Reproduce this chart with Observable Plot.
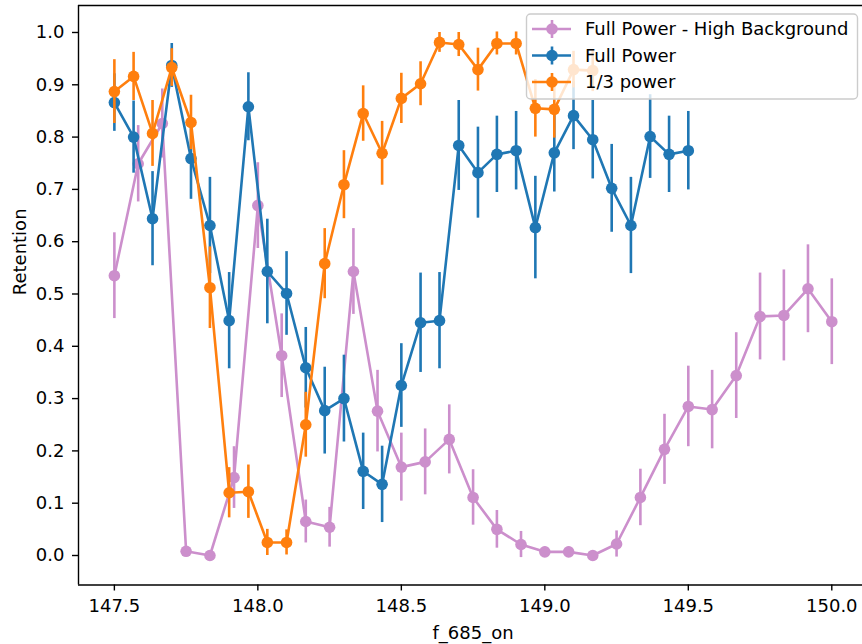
<!DOCTYPE html>
<html><head><meta charset="utf-8">
<script src="https://cdn.jsdelivr.net/npm/d3@7"></script>
<script src="https://cdn.jsdelivr.net/npm/@observablehq/plot@0.6"></script>
<style>body{margin:0;background:#fff;}</style>
</head><body><div id="chart"></div>
<script>
// Frequencies (f_685_on)
const xPink = [147.5, 147.583, 147.667, 147.75, 147.833, 147.917, 148.0, 148.083, 148.167, 148.25, 148.333, 148.417, 148.5, 148.583, 148.667, 148.75, 148.833, 148.917, 149.0, 149.083, 149.167, 149.25, 149.333, 149.417, 149.5, 149.583, 149.667, 149.75, 149.833, 149.917, 150.0];
const yPink = [0.535, 0.749, 0.826, 0.008, 0.0, 0.149, 0.669, 0.382, 0.065, 0.054, 0.543, 0.276, 0.169, 0.179, 0.222, 0.111, 0.050, 0.021, 0.007, 0.007, 0.0, 0.022, 0.111, 0.203, 0.285, 0.279, 0.344, 0.457, 0.459, 0.510, 0.447];
const ePink = [0.082, 0.073, 0.066, 0.009, 0.0, 0.059, 0.082, 0.080, 0.041, 0.038, 0.082, 0.078, 0.065, 0.063, 0.066, 0.053, 0.036, 0.025, 0.009, 0.009, 0.0, 0.025, 0.054, 0.067, 0.077, 0.075, 0.082, 0.083, 0.087, 0.084, 0.082];

const xFull = [147.5, 147.567, 147.633, 147.7, 147.767, 147.833, 147.9, 147.967, 148.033, 148.1, 148.167, 148.233, 148.3, 148.367, 148.433, 148.5, 148.567, 148.633, 148.7, 148.767, 148.833, 148.9, 148.967, 149.033, 149.1, 149.167, 149.233, 149.3, 149.367, 149.433, 149.5];
const yFull = [0.866, 0.800, 0.644, 0.937, 0.759, 0.631, 0.449, 0.858, 0.543, 0.501, 0.359, 0.277, 0.300, 0.161, 0.136, 0.325, 0.445, 0.449, 0.784, 0.732, 0.767, 0.774, 0.627, 0.770, 0.841, 0.795, 0.702, 0.631, 0.801, 0.767, 0.774];
const eFull = [0.055, 0.069, 0.090, 0.042, 0.078, 0.092, 0.092, 0.065, 0.100, 0.080, 0.077, 0.083, 0.083, 0.073, 0.073, 0.080, 0.095, 0.092, 0.086, 0.087, 0.073, 0.075, 0.098, 0.075, 0.065, 0.075, 0.084, 0.092, 0.080, 0.073, 0.075];

const xThird = [147.5, 147.567, 147.633, 147.7, 147.767, 147.833, 147.9, 147.967, 148.033, 148.1, 148.167, 148.233, 148.3, 148.367, 148.433, 148.5, 148.567, 148.633, 148.7, 148.767, 148.833, 148.9, 148.967, 149.033, 149.1, 149.167];
const yThird = [0.887, 0.916, 0.807, 0.933, 0.828, 0.512, 0.120, 0.122, 0.025, 0.025, 0.250, 0.558, 0.709, 0.845, 0.769, 0.874, 0.902, 0.981, 0.977, 0.929, 0.979, 0.979, 0.855, 0.853, 0.929, 0.927];
const eThird = [0.061, 0.046, 0.063, 0.036, 0.052, 0.078, 0.048, 0.051, 0.025, 0.024, 0.062, 0.067, 0.065, 0.053, 0.061, 0.048, 0.042, 0.019, 0.023, 0.041, 0.022, 0.022, 0.055, 0.055, 0.035, 0.040];

const seriesNames = ["Full Power - High Background", "Full Power", "1/3 power"];
const seriesColors = ["#cc8fcc", "#1f77b4", "#ff7f0e"];

const xTicks = [147.5, 148.0, 148.5, 149.0, 149.5, 150.0];
const yTicks = [0.0, 0.1, 0.2, 0.3, 0.4, 0.5, 0.6, 0.7, 0.8, 0.9, 1.0];
const xLabel = "f_685_on";
const yLabel = "Retention";
const xDomain = [147.375, 150.107];
const yDomain = [-0.0564, 1.0516];

const series = [
  {name: seriesNames[0], color: seriesColors[0], x: xPink, y: yPink, e: ePink},
  {name: seriesNames[1], color: seriesColors[1], x: xFull, y: yFull, e: eFull},
  {name: seriesNames[2], color: seriesColors[2], x: xThird, y: yThird, e: eThird}
];
const rows = s => s.x.map((x, i) => ({x, y: s.y[i], lo: s.y[i] - s.e[i], hi: s.y[i] + s.e[i]}));

const FS = 18, LW = 2.6, R = 5.8;
const marks = [];
for (const s of series) {
  const d = rows(s);
  marks.push(Plot.ruleX(d, {x: "x", y1: "lo", y2: "hi", stroke: s.color, strokeWidth: LW}));
  marks.push(Plot.line(d, {x: "x", y: "y", stroke: s.color, strokeWidth: LW}));
  marks.push(Plot.dot(d, {x: "x", y: "y", fill: s.color, stroke: "none", r: R}));
}
marks.push(Plot.ruleX([xDomain[0]], {stroke: "black", strokeWidth: 1.4}));
marks.push(Plot.ruleY(yDomain, {stroke: "black", strokeWidth: 1.4}));
marks.push(Plot.axisX({ticks: xTicks, tickFormat: d => d.toFixed(1), tickSize: 6, tickPadding: 8, strokeWidth: 1.4, label: null, fontSize: FS}));
marks.push(Plot.axisY({ticks: yTicks, tickFormat: d => d.toFixed(1), tickSize: 6, tickPadding: 8, strokeWidth: 1.4, label: null, fontSize: FS}));
marks.push(Plot.text([xLabel], {text: d => d, frameAnchor: "bottom", dx: 2.5, dy: 48, lineAnchor: "middle", fontSize: FS, fill: "black"}));
marks.push(Plot.text([yLabel], {text: d => d, frameAnchor: "left", dx: -58, rotate: -90, lineAnchor: "middle", fontSize: FS, fill: "black"}));

const plot = Plot.plot({
  width: 862, height: 644,
  marginLeft: 78, marginRight: 0, marginTop: 5, marginBottom: 59.5,
  style: {fontFamily: "DejaVu Sans", fontSize: FS + "px", background: "white", color: "black", overflow: "hidden"},
  x: {domain: xDomain},
  y: {domain: yDomain},
  marks
});

// legend
const svg = d3.select(plot);
const g = svg.append("g").attr("font-family", "DejaVu Sans").attr("font-size", FS).attr("text-anchor", "start");
g.append("rect").attr("x", 526.5).attr("y", 14).attr("width", 331).attr("height", 85).attr("rx", 4)
  .attr("fill", "white").attr("fill-opacity", 0.8).attr("stroke", "#cccccc").attr("stroke-width", 1.4);
series.forEach((s, i) => {
  const cy = 29 + i * 26.5;
  g.append("line").attr("x1", 532).attr("x2", 571).attr("y1", cy).attr("y2", cy).attr("stroke", s.color).attr("stroke-width", LW);
  g.append("line").attr("x1", 552).attr("x2", 552).attr("y1", cy - 9).attr("y2", cy + 9).attr("stroke", s.color).attr("stroke-width", LW);
  g.append("circle").attr("cx", 552).attr("cy", cy).attr("r", R).attr("fill", s.color);
  g.append("text").attr("x", 585).attr("y", cy).attr("dy", "0.36em").attr("text-anchor", "start").attr("fill", "black").text(s.name);
});

document.getElementById("chart").appendChild(plot);
</script>
</body></html>
